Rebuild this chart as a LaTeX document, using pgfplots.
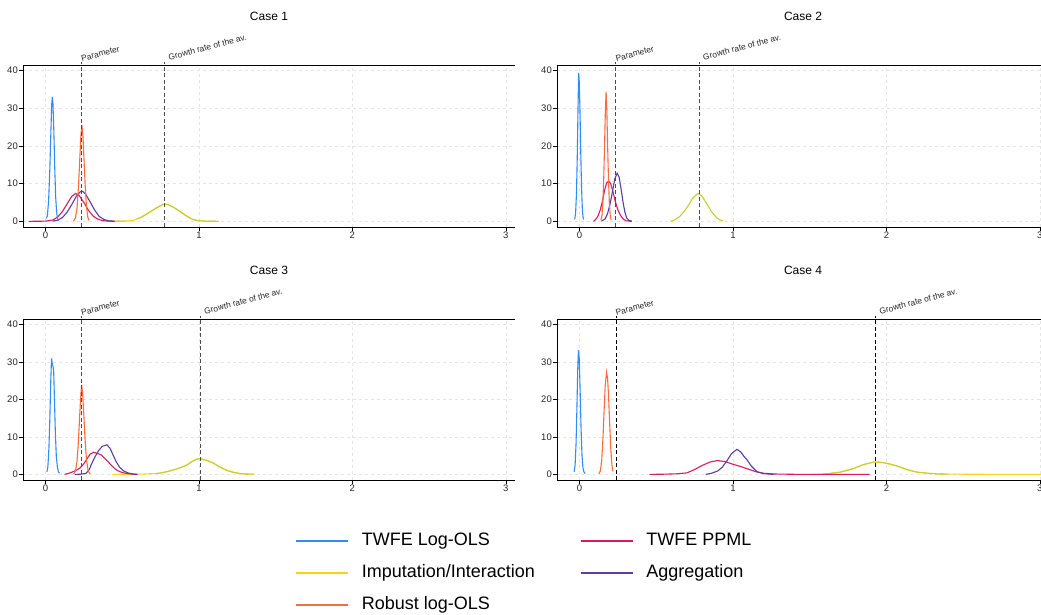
\documentclass[border=0pt]{standalone}
\usepackage{pgfplots}
\pgfplotsset{compat=1.18}
\usepackage{fontspec}
\setmainfont{Liberation Sans}

\definecolor{cBlue}{HTML}{2D8CFF}
\definecolor{cYellow}{HTML}{FFD119}
\definecolor{cOlive}{HTML}{C6CF2D}
\definecolor{cOrange}{HTML}{FF6B3D}
\definecolor{cCrimson}{HTML}{D81B5E}
\definecolor{cPurple}{HTML}{5B3CA8}

\pgfplotsset{
  casepanel/.style={
    scale only axis, width=492pt, height=162pt,
    xmin=-0.147, xmax=3.06, ymin=-1.5, ymax=41.5,
    axis lines*=left,
    axis line style={-, line width=0.8pt, black},
    xtick={0,1,2,3}, ytick={0,10,20,30,40},
    tick align=outside, major tick length=4pt,
    tick style={black, line width=0.6pt},
    grid=major, grid style={dashed, black!10, line width=0.5pt},
    ticklabel style={font=\fontsize{9.5}{11}\selectfont, text=black!85},
    xticklabel style={inner sep=1pt},
    yticklabel style={inner sep=1pt},
    /pgf/number format/assume math mode=true,
    clip=false,
    title style={at={(0.5,1)}, anchor=center, yshift=42.5pt,
      font=\fontsize{12}{14}\selectfont},
    every axis plot/.append style={line width=1.1pt, no markers},
  },
  refline/.style={black!70, line width=1pt, dash pattern=on 4pt off 2.5pt},
  longline legend/.style={
    legend image code/.code={\draw[##1, line width=1.6pt] (0pt,0pt) -- (52pt,0pt);}},
}
\newcommand{\vlab}[3]{% x, xshift, text
  \node[rotate=15, anchor=south west, inner sep=0pt, xshift=#2,
    font=\fontsize{8.4}{9}\selectfont, text=black!85] at (axis cs:#1,42.3) {#3};}
\newcommand{\topline}{\draw[black, line width=0.8pt] (rel axis cs:0,1) -- (rel axis cs:1,1);}

\begin{document}
\begin{tikzpicture}

% ---------------- Case 1
\begin{axis}[casepanel, at={(23pt,387pt)}, anchor=south west, title={Case 1}]
  \topline
  \addplot[cYellow] coordinates {(0.44,0) (0.5,0.05) (0.57,0.2) (0.62,1) (0.67,2.2) (0.72,3.5) (0.76,4.4) (0.778,4.6) (0.8,4.4) (0.84,3.6) (0.88,2.5) (0.92,1.4) (0.96,0.5) (1.0,0.15) (1.05,0.05) (1.13,0)};
  \addplot[cOlive] coordinates {(0.42,0) (0.44,0) (0.5,0.05) (0.52,0.08)};
  \addplot[cOlive] coordinates {(0.6,0.7) (0.62,1) (0.67,2.2) (0.72,3.5) (0.76,4.4) (0.778,4.6) (0.8,4.4) (0.84,3.6) (0.88,2.5) (0.92,1.4) (0.96,0.5) (1.0,0.15) (1.05,0.05) (1.13,0)};
  \addplot[cCrimson] coordinates {(-0.11,0) (0,0.05) (0.05,0.4) (0.08,1.2) (0.11,2.6) (0.14,4.6) (0.17,6.6) (0.196,7.4) (0.22,6.8) (0.25,5) (0.28,2.9) (0.31,1.4) (0.34,0.6) (0.37,0.2) (0.41,0.05) (0.45,0)};
  \addplot[cPurple] coordinates {(0.045,0.05) (0.08,0.3) (0.11,1) (0.14,2.4) (0.17,4.4) (0.2,6.6) (0.225,7.8) (0.24,8) (0.26,7.3) (0.29,5.2) (0.32,3) (0.35,1.3) (0.38,0.5) (0.41,0.15) (0.45,0.03)};
  \addplot[cOrange] coordinates {(0.183,0.1) (0.195,0.9) (0.205,3.5) (0.215,9.5) (0.223,16.5) (0.23,22.5) (0.237,25.5) (0.244,22.5) (0.251,16) (0.259,9) (0.267,3.8) (0.275,1.2) (0.283,0.2)};
  \addplot[cBlue] coordinates {(0.005,0.8) (0.012,1.5) (0.02,5.5) (0.028,14) (0.035,24) (0.04,31) (0.044,33) (0.048,31.5) (0.054,24) (0.06,14) (0.066,6.5) (0.072,2.5) (0.078,0.8) (0.085,0.2)};
  \addplot[refline] coordinates {(0.235,-1.5) (0.235,42.3)};
  \addplot[refline] coordinates {(0.778,-1.5) (0.778,42.3)};
  \vlab{0.235}{0.5pt}{Parameter}
  \vlab{0.778}{4.5pt}{Growth rate of the av.}
\end{axis}

% ---------------- Case 2
\begin{axis}[casepanel, at={(557pt,387pt)}, anchor=south west, title={Case 2}]
  \topline
  \addplot[cOlive] coordinates {(0.593,0) (0.62,0.4) (0.65,1.2) (0.68,2.5) (0.71,4.3) (0.74,6.3) (0.773,7.4) (0.8,6.6) (0.83,4.6) (0.86,2.6) (0.89,1.1) (0.91,0.5) (0.935,0.1)};
  \addplot[cCrimson] coordinates {(0.091,0) (0.105,0.5) (0.12,1.4) (0.134,2.9) (0.15,5.5) (0.165,8.6) (0.178,10.3) (0.19,10.7) (0.203,10) (0.218,7.8) (0.235,5) (0.25,3) (0.265,1.7) (0.285,0.6) (0.303,0.15) (0.34,0)};
  \addplot[cPurple] coordinates {(0.143,0.05) (0.165,0.6) (0.182,2) (0.2,4.8) (0.215,8) (0.23,11.3) (0.245,12.8) (0.258,11.7) (0.27,8.8) (0.283,5.2) (0.295,2.5) (0.307,0.9) (0.32,0.3) (0.34,0.05)};
  \addplot[cOrange] coordinates {(0.139,0.3) (0.146,1.5) (0.152,5) (0.158,12) (0.163,20) (0.168,29) (0.173,34.4) (0.178,29) (0.183,20) (0.188,12) (0.194,5) (0.2,1.5) (0.206,0.3)};
  \addplot[cBlue] coordinates {(-0.032,0.5) (-0.026,2) (-0.02,7.5) (-0.015,17) (-0.01,30) (-0.006,39.4) (-0.002,37) (0.003,29) (0.008,18) (0.013,9) (0.018,3.5) (0.022,1.3) (0.026,0.5)};
  \addplot[refline] coordinates {(0.237,-1.5) (0.237,42.3)};
  \addplot[refline] coordinates {(0.782,-1.5) (0.782,42.3)};
  \vlab{0.237}{0.5pt}{Parameter}
  \vlab{0.782}{4.5pt}{Growth rate of the av.}
\end{axis}

% ---------------- Case 3
\begin{axis}[casepanel, height=161pt, at={(23pt,134pt)}, anchor=south west, title={Case 3}]
  \topline
  \addplot[cYellow] coordinates {(0.435,0) (0.55,0.02) (0.65,0.1) (0.74,0.3) (0.8,0.8) (0.86,1.5) (0.917,2.4) (0.95,3.3) (0.98,4) (1.004,4.2) (1.04,3.9) (1.09,3.1) (1.13,2.1) (1.18,1.1) (1.22,0.6) (1.265,0.25) (1.31,0.1) (1.36,0.05)};
  \addplot[cOlive] coordinates {(0.72,0.25) (0.74,0.3) (0.8,0.8) (0.86,1.5) (0.917,2.4) (0.95,3.3) (0.98,4) (1.004,4.2) (1.04,3.9) (1.09,3.1) (1.13,2.1) (1.18,1.1) (1.22,0.6) (1.265,0.25) (1.31,0.1) (1.36,0.05)};
  \addplot[cCrimson] coordinates {(0.124,0) (0.16,0.4) (0.19,0.9) (0.222,1.6) (0.245,2.6) (0.265,3.8) (0.29,5.4) (0.313,5.9) (0.338,5.6) (0.363,5.2) (0.385,4.3) (0.407,3.4) (0.43,2.4) (0.45,1.6) (0.47,1) (0.493,0.6) (0.52,0.3) (0.548,0.15) (0.59,0)};
  \addplot[cPurple] coordinates {(0.19,0) (0.23,0.05) (0.265,0.3) (0.285,1.3) (0.3,2.8) (0.32,4.5) (0.345,6.3) (0.37,7.5) (0.4,7.9) (0.42,7) (0.44,5.2) (0.46,3.4) (0.483,1.9) (0.51,0.9) (0.537,0.4) (0.57,0.1) (0.6,0)};
  \addplot[cOrange] coordinates {(0.183,0.1) (0.195,0.9) (0.205,3.5) (0.213,8) (0.22,13.5) (0.228,20) (0.235,23.9) (0.242,21.5) (0.25,15.5) (0.258,9) (0.267,3.8) (0.278,0.9) (0.291,0.1)};
  \addplot[cBlue] coordinates {(0.009,0.7) (0.015,2) (0.022,7) (0.028,15) (0.034,25) (0.039,31) (0.044,29.5) (0.049,28.8) (0.053,27.5) (0.058,20) (0.064,11) (0.07,5) (0.077,2) (0.084,0.7) (0.091,0.3)};
  \addplot[refline] coordinates {(0.235,-1.5) (0.235,42.3)};
  \addplot[refline] coordinates {(1.011,-1.5) (1.011,42.3)};
  \vlab{0.235}{0.5pt}{Parameter}
  \vlab{1.011}{4.5pt}{Growth rate of the av.}
\end{axis}

% ---------------- Case 4
\begin{axis}[casepanel, height=161pt, at={(557pt,134pt)}, anchor=south west, title={Case 4}]
  \topline
  \addplot[cYellow] coordinates {(1.5,0) (1.6,0.1) (1.7,0.6) (1.78,1.5) (1.85,2.6) (1.917,3.3) (1.97,3.2) (2.02,2.8) (2.08,2.1) (2.14,1.2) (2.2,0.6) (2.27,0.3) (2.35,0.1) (2.5,0.05) (2.7,0.01) (3.06,0)};
  \addplot[cOlive] coordinates {(1.58,0.07) (1.6,0.1) (1.7,0.6) (1.78,1.5) (1.85,2.6) (1.917,3.3) (1.97,3.2) (2.02,2.8) (2.08,2.1) (2.14,1.2) (2.2,0.6) (2.27,0.3) (2.35,0.1) (2.4,0.08)};
  \addplot[cCrimson] coordinates {(0.457,0) (0.55,0.05) (0.63,0.15) (0.7,0.4) (0.75,1.3) (0.8,2.4) (0.85,3.3) (0.9,3.7) (0.95,3.4) (1.0,2.7) (1.05,2.1) (1.1,1.4) (1.15,0.7) (1.2,0.3) (1.27,0.1) (1.4,0.02) (1.6,0) (1.89,0)};
  \addplot[cPurple] coordinates {(0.822,0) (0.86,0.3) (0.9,0.9) (0.93,1.9) (0.96,3.6) (0.99,5.5) (1.026,6.7) (1.05,6) (1.07,4.9) (1.091,3.9) (1.12,2.2) (1.157,0.7) (1.2,0.2) (1.265,0)};
  \addplot[cOrange] coordinates {(0.126,0.1) (0.136,1) (0.145,4) (0.153,10) (0.16,17) (0.167,23.5) (0.176,27.3) (0.183,25.5) (0.19,20) (0.197,13) (0.204,6.5) (0.211,2.5) (0.217,0.8)};
  \addplot[cBlue] coordinates {(-0.035,0.7) (-0.029,2.5) (-0.023,8) (-0.017,18) (-0.012,28) (-0.007,33.2) (-0.002,31) (0.004,22) (0.01,12) (0.016,5) (0.022,1.8) (0.028,0.7) (0.037,0.2)};
  \addplot[refline, black, line width=0.8pt] coordinates {(0.237,-1.5) (0.237,42.3)};
  \addplot[refline, black, line width=0.8pt] coordinates {(1.931,-1.5) (1.931,42.3)};
  \vlab{0.237}{0.5pt}{Parameter}
  \vlab{1.931}{4.5pt}{Growth rate of the av.}
\end{axis}

% ---------------- Legend
\begin{axis}[hide axis, scale only axis, width=1pt, height=1pt,
  xmin=0, xmax=1, ymin=0, ymax=1,
  at={(295pt,81.5pt)}, anchor=south west,
  legend columns=2, longline legend,
  legend style={at={(0,0)}, anchor=north west, draw=none, fill=none,
    inner xsep=0pt, inner ysep=0pt, row sep=15pt,
    nodes={inner sep=0pt, text height=13pt, text depth=4pt},
    cells={anchor=west},
    font=\fontsize{18}{20}\selectfont,
    /tikz/every odd column/.append style={column sep=13pt}},
  ]
  \addlegendimage{color=cBlue}
  \addlegendentry{\makebox[218pt][l]{TWFE Log-OLS}}
  \addlegendimage{color=cCrimson}
  \addlegendentry{TWFE PPML}
  \addlegendimage{color=cYellow}
  \addlegendentry{\makebox[218pt][l]{Imputation/Interaction}}
  \addlegendimage{color=cPurple}
  \addlegendentry{Aggregation}
  \addlegendimage{color=cOrange}
  \addlegendentry{\makebox[218pt][l]{Robust log-OLS}}
\end{axis}

\pgfresetboundingbox
\path[use as bounding box] (0pt,0pt) rectangle (1041pt,614pt);
\end{tikzpicture}
\end{document}
